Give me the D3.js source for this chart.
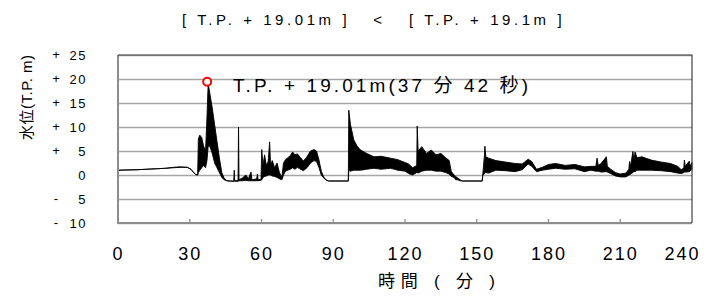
<!DOCTYPE html>
<html>
<head>
<meta charset="utf-8">
<script src="https://cdn.jsdelivr.net/npm/d3@7"></script>
<style>
  body { margin: 0; background: #fff; }
  text { font-family: "Liberation Sans", Arial, "Noto Sans CJK JP", sans-serif; }
</style>
</head>
<body>
<script>
// water level envelope (min / max within each sample), minutes vs T.P. m
const minutes = [0, 8, 16, 20, 23, 26, 29, 30.5, 31.5, 32.5, 33.3, 33.6, 34.2, 35.0, 35.8, 36.6, 37.2, 37.7, 38.4, 39.4,
  40.4, 41.4, 42.4, 43.4, 44.4, 45.5, 48.4, 48.6, 48.8, 50.2, 50.4, 50.6, 52.0, 53.5, 54.5, 55.6, 56.0, 58.0, 58.3, 58.6,
  59.8, 60.1, 60.6, 61.3, 62.0, 62.8, 63.4, 63.8, 64.5, 65.5, 66.5, 67.5, 68.5, 69.2, 70, 71, 72, 73, 74, 75,
  76, 77.5, 79, 80.5, 82, 83, 84, 85, 86, 87, 88, 96.3, 96.5, 97.2, 98.6, 100, 101.4, 104, 107, 110,
  114, 117, 120, 121.5, 123.2, 124.9, 125.1, 125.5, 127, 129, 131, 133, 135, 137, 138.5, 139.3, 140.5, 141.2, 142, 143,
  144, 152.3, 152.5, 153.2, 153.4, 153.8, 155, 158, 162, 166, 169, 171.5, 173, 175, 177.4, 180, 183, 187, 191, 195,
  197.7, 199.8, 200.3, 200.8, 202, 204.2, 204.6, 206, 208, 210, 212.4, 213.6, 213.9, 214.3, 215.3, 215.7, 216.2, 217, 219, 223,
  227, 231, 234, 235.5, 236.6, 236.8, 237.2, 238.9, 239.2, 240];
const levelLow = [1.0, 1.1, 1.3, 1.4, 1.5, 1.6, 1.6, 1.2, 0.6, 0.1, 0.0, 0.5, 1.0, 1.5, 2.0, 1.5, 3.0, 6.0, 6.0, 4.5,
  2.5, 1.5, 0.5, -0.5, -1.0, -1.2, -1.3, -1.3, -1.3, -1.3, -1.3, -1.2, -1.2, -1.1, -1.2, -1.2, -1.2, -1.2, -1.2, -1.2,
  -1.1, -1.0, -0.5, -0.3, -0.2, 0.0, 0.0, 0.0, -0.2, -0.3, -0.5, -0.8, -1.0, 0.0, 0.8, 1.0, 1.2, 1.5, 1.2, 1.6,
  1.3, 0.9, 1.5, 2.5, 3.0, 2.8, 1.6, 0.0, -0.6, -1.1, -1.25, -1.25, 1.0, 0.8, 1.0, 1.0, 1.0, 1.2, 1.4, 1.2,
  1.4, 1.0, 0.8, 0.3, 0.0, 0.5, 0.5, 0.4, 0.8, 1.0, 1.0, 0.8, 0.8, 0.5, 0.2, -0.3, -0.5, -1.0, -1.0, -1.2,
  -1.25, -1.25, 0.0, 0.2, 0.5, 0.5, 0.4, 1.0, 0.9, 0.7, 1.1, 2.3, 1.8, 0.7, 1.0, 1.2, 1.4, 1.2, 1.3, 0.7,
  1.0, 0.8, 0.8, 0.8, 0.6, 0.7, 0.6, 0.3, -0.2, -0.4, -0.4, 0.0, 0.0, 0.2, 0.5, 0.7, 0.7, 1.0, 1.0, 1.0,
  0.9, 0.7, 0.4, 0.3, 0.5, 0.6, 0.6, 0.7, 0.8, 1.2];
const levelHigh = [1.0, 1.1, 1.3, 1.4, 1.6, 1.7, 1.6, 1.2, 0.6, 0.1, 0.0, 7.5, 8.3, 7.8, 6.0, 5.0, 12.0, 19.0, 17.0, 14.0,
  10.5, 7.0, 3.5, 0.5, -0.7, -1.2, -1.3, 1.0, -1.2, -1.2, 10.0, -1.0, -0.6, 0.0, -0.8, 0.6, -1.0, -0.8, 0.2, -1.0,
  -0.9, 5.3, 2.0, 4.2, 2.0, 2.8, 6.9, 2.0, 3.0, 1.5, 2.5, 0.5, -0.5, 2.5, 3.2, 3.6, 4.0, 4.8, 4.2, 4.4,
  3.8, 2.9, 3.8, 5.0, 5.3, 5.0, 3.2, 0.8, -0.4, -1.0, -1.25, -1.25, 13.5, 10.5, 7.3, 6.0, 5.2, 4.5, 3.8, 3.9,
  3.5, 3.2, 2.6, 2.3, 1.5, 2.0, 10.2, 5.0, 5.9, 4.5, 5.2, 4.2, 4.5, 3.6, 3.0, 0.8, 0.0, -0.3, -0.6, -1.0,
  -1.25, -1.25, 0.0, 4.0, 6.0, 3.8, 3.5, 3.0, 2.7, 2.4, 2.3, 3.3, 2.8, 1.2, 1.6, 2.2, 2.4, 2.0, 2.2, 1.7,
  1.8, 1.8, 3.5, 2.0, 2.4, 3.8, 1.8, 1.2, 0.5, 0.2, 0.4, 1.2, 2.8, 1.8, 4.9, 3.0, 4.8, 3.6, 3.8, 3.1,
  2.7, 2.4, 1.8, 1.1, 1.5, 3.1, 1.8, 2.9, 1.8, 2.6];

const xTicks = [0, 30, 60, 90, 120, 150, 180, 210, 240];
const yTicks = [25, 20, 15, 10, 5, 0, -5, -10];

const peakMinute = 37.7;   // 37分42秒
const peakLevel = 19.01;

const titleText = '[ T.P. + 19.01m ]   <   [ T.P. + 19.1m ]';
const peakText = 'T.P. + 19.01m(37 分 42 秒)';
const xTitle = '時間 ( 分 )';
const yTitle = '水位(T.P. m)';

const width = 709;
const height = 298;
const margin = { top: 55, right: 17, bottom: 75, left: 118 };

const svg = d3.select('body')
  .append('svg')
  .attr('width', width)
  .attr('height', height);

const x = d3.scaleLinear()
  .domain([0, 240])
  .range([margin.left, width - margin.right]);

const y = d3.scaleLinear()
  .domain([-10, 25])
  .range([height - margin.bottom, margin.top]);

// grid lines
svg.append('g')
  .attr('class', 'grid')
  .attr('transform', `translate(${margin.left},0)`)
  .call(d3.axisLeft(y).tickValues(yTicks).tickSize(-(x.range()[1] - x.range()[0])).tickFormat(''))
  .call(g => g.select('.domain').remove())
  .call(g => g.selectAll('line').attr('stroke', '#a6a6a6').attr('stroke-width', 1.3));

// data
const samples = minutes.map((t, i) => ({ t, lo: levelLow[i], hi: levelHigh[i] }));

const area = d3.area()
  .x(d => x(d.t))
  .y0(d => y(d.lo))
  .y1(d => y(d.hi));

svg.append('path')
  .datum(samples)
  .attr('d', area)
  .attr('fill', '#000')
  .attr('stroke', '#000')
  .attr('stroke-width', 0.9)
  .attr('stroke-linejoin', 'round');

// plot frame
const [x0, x1] = x.range();
const [yb, yt] = y.range();
svg.append('path')
  .attr('d', `M${x0},${yt}V${yb}H${x1}`)
  .attr('fill', 'none')
  .attr('stroke', '#8c8c8c')
  .attr('stroke-width', 2);
svg.append('path')
  .attr('d', `M${x0},${yt}H${x1}V${yb}`)
  .attr('fill', 'none')
  .attr('stroke', '#404040')
  .attr('stroke-width', 1.2);

// x axis
const xAxis = svg.append('g')
  .attr('transform', `translate(0,${yb})`)
  .call(d3.axisBottom(x).tickValues(xTicks).tickSize(0).tickPadding(24));
xAxis.select('.domain').remove();
xAxis.selectAll('text')
  .attr('font-size', 18)
  .attr('letter-spacing', 2)
  .attr('fill', '#000');
xAxis.selectAll('.tick').filter(d => d === 240).select('text').attr('dx', -10);

svg.append('g')
  .selectAll('line')
  .data(xTicks.slice(1, -1))
  .join('line')
  .attr('x1', d => x(d))
  .attr('x2', d => x(d))
  .attr('y1', yb)
  .attr('y2', yb - 4)
  .attr('stroke', '#8c8c8c')
  .attr('stroke-width', 1.3);

// y axis labels: sign column + right-aligned number
const yAxis = svg.append('g')
  .attr('transform', `translate(${margin.left},0)`)
  .call(d3.axisLeft(y).tickValues(yTicks).tickSize(0).tickPadding(31).tickFormat(d => Math.abs(d)));
yAxis.select('.domain').remove();
yAxis.selectAll('text')
  .attr('font-size', 13)
  .attr('letter-spacing', 1.5)
  .attr('fill', '#000');

svg.append('g')
  .selectAll('text')
  .data(yTicks.filter(d => d !== 0))
  .join('text')
  .attr('x', 56)
  .attr('y', d => y(d))
  .attr('dy', '0.32em')
  .attr('text-anchor', 'middle')
  .attr('font-size', 13)
  .text(d => (d > 0 ? '+' : '-'));

// titles
svg.append('text')
  .attr('x', 182)
  .attr('y', 25)
  .attr('font-size', 15)
  .attr('letter-spacing', 3.4)
  .attr('textLength', 383)
  .attr('lengthAdjust', 'spacing')
  .style('white-space', 'pre')
  .text(titleText);

svg.append('text')
  .attr('x', 378)
  .attr('y', 287)
  .attr('font-size', 17)
  .attr('textLength', 117)
  .attr('lengthAdjust', 'spacing')
  .style('white-space', 'pre')
  .text(xTitle);

svg.append('text')
  .attr('transform', 'translate(32,140) rotate(-90)')
  .attr('font-size', 15)
  .attr('letter-spacing', 0.5)
  .style('white-space', 'pre')
  .text(yTitle);

// peak marker
svg.append('circle')
  .attr('cx', x(peakMinute) - 1)
  .attr('cy', y(peakLevel) - 2)
  .attr('r', 4)
  .attr('fill', '#fff')
  .attr('stroke', '#ff0000')
  .attr('stroke-width', 2);

svg.append('text')
  .attr('x', 233)
  .attr('y', 92)
  .attr('font-size', 19)
  .attr('textLength', 295)
  .attr('lengthAdjust', 'spacing')
  .style('white-space', 'pre')
  .text(peakText);
</script>
</body>
</html>
